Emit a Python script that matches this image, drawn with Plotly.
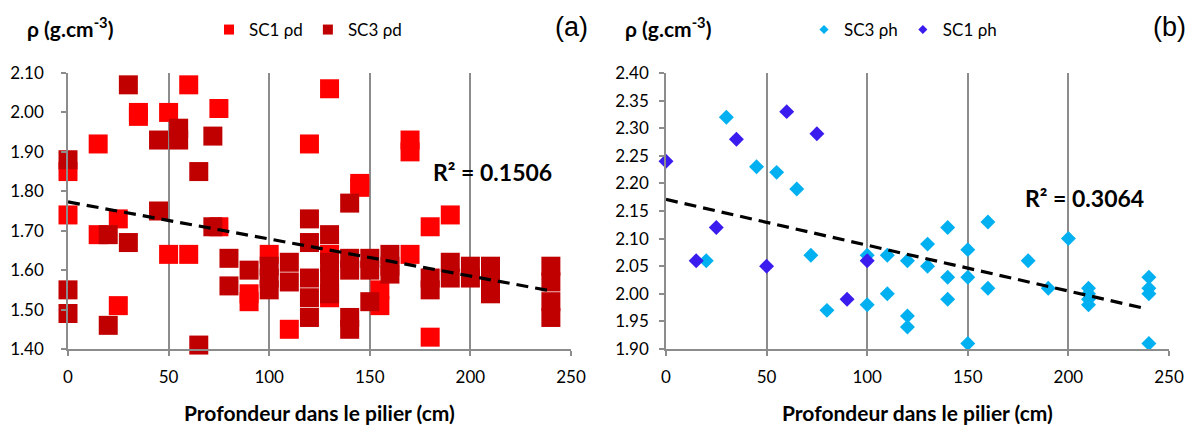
import plotly.graph_objects as go
import numpy as np

# ---------------- data ----------------
# Panel (a): dry density
sc1_pd_x = [0, 0, 15, 15, 25, 25, 35, 35, 50, 50, 60, 60, 75, 75, 90, 90, 100, 110, 120,
            130, 130, 130, 145, 145, 155, 155, 170, 170, 170, 180, 180, 190]
sc1_pd_y = [1.85, 1.74, 1.92, 1.69, 1.73, 1.51, 2.00, 1.99, 2.00, 1.64, 2.07, 1.64, 2.01, 1.71,
            1.54, 1.52, 1.64, 1.45, 1.92, 2.06, 1.64, 1.53, 1.82, 1.81, 1.55, 1.51, 1.93, 1.90,
            1.64, 1.71, 1.43, 1.74]
sc3_pd_x = [0, 0, 0, 20, 20, 30, 30, 45, 45, 55, 55, 65, 65, 72, 72, 80, 80, 90, 100, 100, 100,
            110, 110, 120, 120, 120, 120, 120, 130, 130, 130, 130, 140, 140, 140, 140, 140,
            150, 150, 150, 160, 160, 160, 180, 180, 190, 190, 200, 200, 210, 210, 210,
            240, 240, 240, 240]
sc3_pd_y = [1.88, 1.55, 1.49, 1.69, 1.46, 2.07, 1.67, 1.93, 1.75, 1.96, 1.93, 1.85, 1.41, 1.94,
            1.71, 1.63, 1.56, 1.60, 1.61, 1.58, 1.55, 1.62, 1.57, 1.73, 1.67, 1.58, 1.53, 1.48,
            1.69, 1.62, 1.58, 1.54, 1.77, 1.63, 1.60, 1.48, 1.45, 1.63, 1.60, 1.52, 1.64, 1.61,
            1.59, 1.58, 1.55, 1.62, 1.58, 1.61, 1.58, 1.61, 1.57, 1.54, 1.61, 1.57, 1.52, 1.48]
trend_a = {"intercept": 1.773, "slope": -0.00094, "x_end": 240, "r2": "0.1506"}

# Panel (b): wet density
sc3_ph_x = [20, 30, 45, 55, 65, 72, 80, 100, 100, 110, 110, 120, 120, 120, 130, 130, 140, 140,
            140, 150, 150, 150, 160, 160, 180, 190, 200, 210, 210, 210, 210, 240, 240, 240, 240]
sc3_ph_y = [2.06, 2.32, 2.23, 2.22, 2.19, 2.07, 1.97, 2.07, 1.98, 2.07, 2.00, 2.06, 1.96, 1.94,
            2.09, 2.05, 2.12, 2.03, 1.99, 2.08, 2.03, 1.91, 2.13, 2.01, 2.06, 2.01, 2.10, 2.01,
            2.00, 1.99, 1.98, 2.03, 2.01, 2.00, 1.91]
sc1_ph_x = [0, 15, 25, 35, 50, 60, 75, 90, 100]
sc1_ph_y = [2.24, 2.06, 2.12, 2.28, 2.05, 2.33, 2.29, 1.99, 2.06]
trend_b = {"intercept": 2.171, "slope": -0.00083, "x_end": 238, "r2": "0.3064"}

x_title = "Profondeur dans le pilier (cm)"
y_title = "ρ (g.cm<sup>-3</sup>)"

# ---------------- style ----------------
W, H = 1195, 430
FONT = "Lato"
GRID = "#8c8c8c"
RED, DRED = "#FF0000", "#C00000"
LBLUE, DBLUE = "#00B0F0", "#3A1CEE"


def px_x(p):
    return p / W


def px_y(p):
    return 1 - p / H


fig = go.Figure()


def add_series(x, y, color, symbol, size, xa, ya, name, leg, lsize):
    fig.add_trace(go.Scatter(x=x, y=y, mode="markers", xaxis=xa, yaxis=ya,
                             marker=dict(color=color, symbol=symbol, size=size, line_width=0),
                             cliponaxis=False, showlegend=False, hoverinfo="x+y"))
    # legend entry
    fig.add_trace(go.Scatter(x=[None], y=[None], mode="markers", xaxis=xa, yaxis=ya, name=name,
                             marker=dict(color=color, symbol=symbol, size=lsize), legend=leg))


def add_trend(t, xa, ya):
    tx = np.array([0, t["x_end"]], dtype=float)
    ty = t["intercept"] + t["slope"] * tx
    fig.add_trace(go.Scatter(x=tx, y=ty, mode="lines", xaxis=xa, yaxis=ya, showlegend=False,
                             line=dict(color="black", width=3.2, dash="12px,7px"),
                             hoverinfo="skip"))


add_series(sc1_pd_x, sc1_pd_y, RED, "square", 19, "x", "y", "SC1 ρd", "legend", 10)
add_series(sc3_pd_x, sc3_pd_y, DRED, "square", 19, "x", "y", "SC3 ρd", "legend", 10)
add_trend(trend_a, "x", "y")
add_series(sc3_ph_x, sc3_ph_y, LBLUE, "diamond", 11.5, "x2", "y2", "SC3 ρh", "legend2", 7)
add_series(sc1_ph_x, sc1_ph_y, DBLUE, "diamond", 11.5, "x2", "y2", "SC1 ρh", "legend2", 7)
add_trend(trend_b, "x2", "y2")

tickfont = dict(family=FONT, size=17, color="black")
xcommon = dict(range=[0, 250], dtick=50, tick0=0, showgrid=True, gridcolor=GRID, gridwidth=1.5,
               showline=True, linecolor=GRID, linewidth=1.5, ticks="outside", ticklen=5,
               tickcolor=GRID, tickwidth=1.5, tickfont=tickfont, zeroline=False,
               ticklabelstandoff=7, fixedrange=True, automargin=False)
ycommon = dict(showgrid=False, showline=True, linecolor=GRID, linewidth=1.5, ticks="outside",
               ticklen=5, tickcolor=GRID, tickwidth=1.5, tickfont=tickfont, zeroline=False,
               tickformat=".2f", fixedrange=True, automargin=False)

ydom = [px_y(349), px_y(73)]
fig.update_layout(
    width=W, height=H, margin=dict(l=0, r=0, t=0, b=0, autoexpand=False),
    paper_bgcolor="white", plot_bgcolor="white",
    xaxis=dict(domain=[px_x(68), px_x(571)], anchor="y", **xcommon),
    yaxis=dict(domain=ydom, anchor="x", range=[1.40, 2.10], dtick=0.1, tick0=1.4,
               ticklabelstandoff=14, **ycommon),
    xaxis2=dict(domain=[px_x(666), px_x(1169)], anchor="y2", **xcommon),
    yaxis2=dict(domain=ydom, anchor="x2", range=[1.90, 2.40], dtick=0.05, tick0=1.9,
                ticklabelstandoff=7, **ycommon),
    legend=dict(orientation="h", x=px_x(209), y=px_y(30), xanchor="left", yanchor="middle",
                font=dict(family=FONT, size=17, color="black"), bgcolor="rgba(0,0,0,0)",
                itemclick=False, itemdoubleclick=False),
    legend2=dict(orientation="h", x=px_x(804), y=px_y(30), xanchor="left", yanchor="middle",
                 font=dict(family=FONT, size=17, color="black"), bgcolor="rgba(0,0,0,0)",
                 itemclick=False, itemdoubleclick=False),
    showlegend=True,
)

ann = []
for cx in [319.5, 917.5]:
    ann.append(dict(text=f"<b>{x_title}</b>", x=px_x(cx), y=px_y(412), xref="paper", yref="paper",
                    showarrow=False, xanchor="center", yanchor="middle",
                    font=dict(family=FONT, size=21, color="black")))
for lx in [25, 623]:
    ann.append(dict(text=f"<b>{y_title}</b>", x=px_x(lx), y=px_y(27), xref="paper", yref="paper",
                    showarrow=False, xanchor="left", yanchor="middle",
                    font=dict(family=FONT, size=21, color="black")))
for cx, lab in [(571.5, "(a)"), (1169, "(b)")]:
    ann.append(dict(text=lab, x=px_x(cx), y=px_y(27), xref="paper", yref="paper",
                    showarrow=False, xanchor="center", yanchor="middle",
                    font=dict(family="Liberation Sans", size=27, color="black")))
for cx, cy, t in [(492, 172, trend_a), (1084, 198, trend_b)]:
    ann.append(dict(text=f"<b>R² = {t['r2']}</b>", x=px_x(cx), y=px_y(cy), xref="paper",
                    yref="paper", showarrow=False, xanchor="center", yanchor="middle",
                    font=dict(family=FONT, size=23, color="black")))
fig.update_layout(annotations=ann)

fig.write_html("out.html", config={"displayModeBar": False},
               post_script="document.body.style.margin='0';document.body.style.padding='0';"
                           "document.body.style.overflow='hidden';")
